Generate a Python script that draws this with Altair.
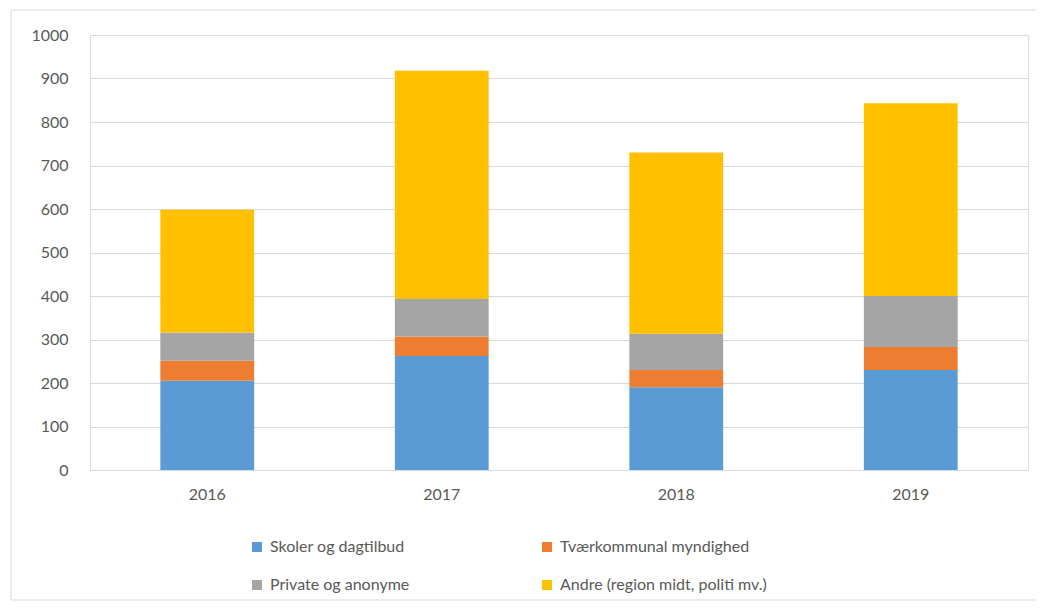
import altair as alt
import pandas as pd

years = ["2016", "2017", "2018", "2019"]
categories = ["Skoler og dagtilbud", "Tværkommunal myndighed", "Private og anonyme", "Andre (region midt, politi mv.)"]
skoler = [205, 262, 190, 230]
tvaer = [46, 45, 40, 53]
private = [65, 86, 83, 117]
andre = [282, 525, 417, 443]
colors = ["#5B9BD5", "#ED7D31", "#A5A5A5", "#FFC000"]

rows = []
for i, y in enumerate(years):
    for k, (cat, vals) in enumerate(zip(categories, [skoler, tvaer, private, andre])):
        rows.append({"year": y, "category": cat, "value": vals[i], "order": k})
df = pd.DataFrame(rows)

# legend is filled column by column: put the entries in that order
legend_domain = [categories[0], categories[2], categories[1], categories[3]]
legend_range = [colors[0], colors[2], colors[1], colors[3]]

FONT = "Lato"
TXT = "#595959"
FS = 16

frame = alt.Chart(pd.DataFrame({"a": [0]})).mark_rect(
    fill="white", fillOpacity=0, stroke="#D9D9D9", strokeWidth=1, clip=False
).encode(
    x=alt.value(-79), x2=alt.value(960), y=alt.value(-25), y2=alt.value(565)
)

bars = alt.Chart(df).mark_bar().encode(
    x=alt.X("year:N", sort=years, title=None,
            scale=alt.Scale(paddingInner=0.6, paddingOuter=0.3),
            axis=alt.Axis(labelAngle=0, ticks=False, domainColor="#D9D9D9",
                          labelPadding=16, labelFontSize=FS, labelColor=TXT,
                          labelFont=FONT, grid=False)),
    y=alt.Y("value:Q", stack="zero", title=None,
            scale=alt.Scale(domain=[0, 1000], nice=False),
            axis=alt.Axis(values=list(range(0, 1001, 100)), format="d", ticks=False,
                          domain=False, gridColor="#D9D9D9", labelPadding=22,
                          labelFontSize=FS, labelColor=TXT, labelFont=FONT)),
    color=alt.Color("category:N",
                    scale=alt.Scale(domain=legend_domain, range=legend_range),
                    legend=alt.Legend(title=None, orient="none", legendX=159, legendY=504,
                                      columns=2, columnPadding=129, rowPadding=22,
                                      symbolType="square", symbolSize=100,
                                      symbolStrokeWidth=0, labelFontSize=FS,
                                      labelColor=TXT, labelFont=FONT, labelOffset=5,
                                      labelLimit=0)),
    order=alt.Order("order:Q", sort="ascending"),
)

chart = alt.layer(frame, bars).properties(
    width=938, height=435,
    autosize=alt.AutoSizeParams(type="none"),
    padding={"left": 82, "top": 27, "right": 8, "bottom": 132},
).configure_view(stroke=None).configure(background="white")

chart.save("out.html", embed_options={"renderer": "svg", "actions": False})
